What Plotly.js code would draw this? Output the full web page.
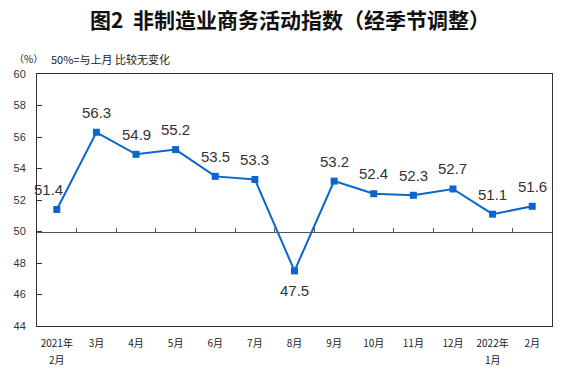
<!DOCTYPE html>
<html>
<head>
<meta charset="utf-8">
<script src="https://cdn.plot.ly/plotly-3.0.1.min.js"></script>
<style>html,body{margin:0;padding:0;background:#fff;}#chart{width:573px;height:371px;}</style>
</head>
<body>
<div id="chart"></div>
<script>
const categories = ["2021年","3月","4月","5月","6月","7月","8月","9月","10月","11月","12月","2022年","2月"];
const subLabels = ["2月","","","","","","","","","","","1月",""];
const values = [51.4, 56.3, 54.9, 55.2, 53.5, 53.3, 47.5, 53.2, 52.4, 52.3, 52.7, 51.1, 51.6];
const yTicks = [44, 46, 48, 50, 52, 54, 56, 58, 60];
const boundaryTicks = [0.5,1.5,2.5,3.5,4.5,5.5,6.5,7.5,8.5,9.5,10.5,11.5];

const idx = categories.map((c, i) => i);
const blue = '#0a66cc';
const cjk = '"Noto Sans CJK SC", "Liberation Sans", sans-serif';

const traces = [
  {
    x: idx, y: values, type: 'scatter', mode: 'lines+markers',
    line: {color: blue, width: 2},
    marker: {color: blue, symbol: 'square', size: 7},
    hoverinfo: 'none', showlegend: false, cliponaxis: false
  },
  {
    x: [], y: [], xaxis: 'x2', yaxis: 'y', type: 'scatter', showlegend: false, hoverinfo: 'none'
  }
];

const annotations = values.map((v, i) => ({
  x: i, y: v, xref: 'x', yref: 'y',
  text: v.toFixed(1), showarrow: false,
  yshift: v < 50 ? -20 : 20,
  xshift: i === 0 ? -8 : 0,
  font: {family: '"Liberation Sans", Arial, sans-serif', size: 15, color: '#333'}
}));
subLabels.forEach((s, i) => {
  if (!s) return;
  annotations.push({
    x: i, xref: 'x', yref: 'paper', y: -0.131, yanchor: 'middle',
    text: s, showarrow: false, font: {family: cjk, size: 10, color: '#222'}
  });
});
annotations.push({
  xref: 'paper', yref: 'paper', x: -0.049, y: 1.06, xanchor: 'left', yanchor: 'middle',
  text: '（%）', showarrow: false, font: {family: cjk, size: 10, color: '#222'}
});
annotations.push({
  xref: 'paper', yref: 'paper', x: 0.023, y: 1.06, xanchor: 'left', yanchor: 'middle',
  text: '50%=与上月 比较无变化', showarrow: false, font: {family: cjk, size: 11, color: '#222'}
});

const layout = {
  width: 573, height: 371,
  margin: {l: 37, r: 21, t: 74, b: 45},
  paper_bgcolor: '#fff', plot_bgcolor: '#fff',
  title: {
    text: '<b>图2  非制造业商务活动指数（经季节调整）</b>',
    font: {family: cjk, size: 21, color: '#111'},
    xref: 'container', x: 0.506, xanchor: 'center',
    yref: 'container', y: 0.945, yanchor: 'middle'
  },
  xaxis: {
    type: 'linear', range: [-0.5, 12.5],
    tickmode: 'array', tickvals: idx, ticktext: categories,
    ticks: '', showgrid: false, zeroline: false,
    showline: true, mirror: true, linecolor: '#333', linewidth: 1,
    tickfont: {family: cjk, size: 10, color: '#222'},
    ticklabelstandoff: 8
  },
  xaxis2: {
    type: 'linear', range: [-0.5, 12.5], overlaying: 'x', anchor: 'free',
    position: (50 - 44) / (60 - 44),
    tickmode: 'array', tickvals: boundaryTicks, ticks: 'inside', ticklen: 4,
    tickcolor: '#555', showticklabels: false, showgrid: false, zeroline: false,
    showline: true, linecolor: '#555', linewidth: 1
  },
  yaxis: {
    range: [44, 60], tickmode: 'array', tickvals: yTicks,
    ticks: 'inside', ticklen: 5, tickcolor: '#333',
    showgrid: false, zeroline: false,
    showline: true, mirror: true, linecolor: '#333', linewidth: 1,
    tickfont: {family: '"Liberation Sans", Arial, sans-serif', size: 11, color: '#333'},
    ticklabelstandoff: 8
  },
  annotations: annotations
};

Plotly.newPlot('chart', traces, layout, {staticPlot: true, displayModeBar: false});
</script>
</body>
</html>
